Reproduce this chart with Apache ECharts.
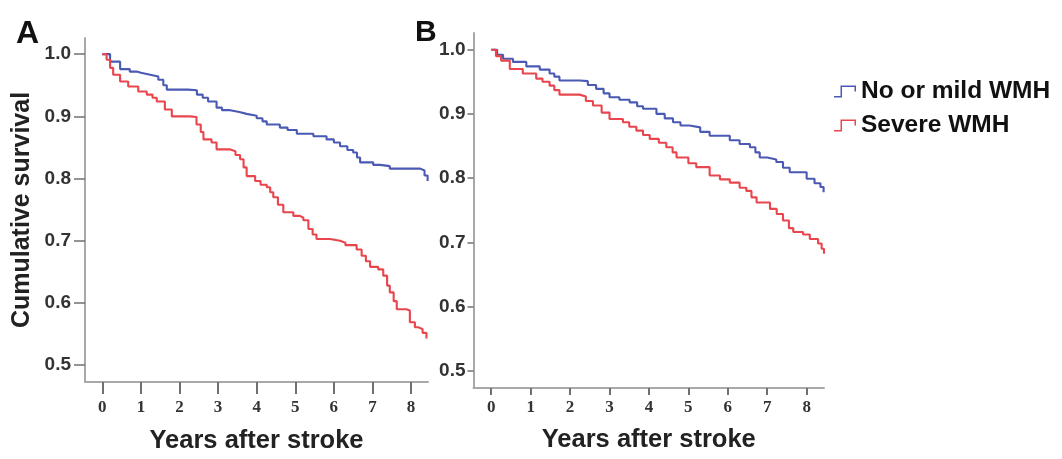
<!DOCTYPE html>
<html>
<head>
<meta charset="utf-8">
<script src="https://cdn.jsdelivr.net/npm/echarts@6/dist/echarts.min.js"></script>
<style>html,body{margin:0;padding:0;background:#fff;}#c{width:1062px;height:459px;}</style>
</head>
<body>
<div id="c"></div>
<script>
// ---- data ----
var seriesNames = ['No or mild WMH', 'Severe WMH'];
var xTicks = [0, 1, 2, 3, 4, 5, 6, 7, 8];
var yTicks = [0.5, 0.6, 0.7, 0.8, 0.9, 1.0];

// Panel A
var tA_mild = [0,0.2,0.46,0.71,0.89,1.0,1.24,1.45,1.58,1.67,2.22,2.45,2.6,2.74,2.96,3.1,3.31,3.55,3.74,4.0,4.15,4.26,4.6,4.8,5.04,5.47,5.81,6.0,6.16,6.35,6.5,6.6,6.68,7.02,7.2,7.45,8.24,8.35,8.43];
var sA_mild = [1.0,0.988,0.976,0.972,0.970,0.967,0.964,0.959,0.950,0.943,0.942,0.935,0.930,0.924,0.914,0.910,0.907,0.904,0.901,0.897,0.892,0.887,0.882,0.878,0.872,0.868,0.863,0.858,0.852,0.846,0.842,0.834,0.826,0.822,0.820,0.816,0.813,0.805,0.796];
var tA_severe = [0,0.11,0.2,0.28,0.46,0.67,0.93,1.15,1.3,1.41,1.62,1.8,2.27,2.44,2.55,2.62,2.83,2.96,3.3,3.45,3.57,3.66,3.74,3.96,4.1,4.26,4.35,4.43,4.55,4.69,4.95,5.12,5.21,5.34,5.45,5.55,5.9,6.16,6.3,6.59,6.72,6.83,6.94,7.15,7.28,7.38,7.45,7.55,7.63,7.88,7.97,8.1,8.19,8.3,8.4];
var sA_severe = [1.0,0.991,0.978,0.967,0.956,0.948,0.940,0.935,0.930,0.924,0.911,0.900,0.899,0.887,0.875,0.863,0.858,0.847,0.844,0.838,0.831,0.818,0.804,0.796,0.790,0.786,0.778,0.770,0.758,0.746,0.740,0.737,0.733,0.719,0.710,0.703,0.700,0.697,0.693,0.686,0.676,0.667,0.658,0.654,0.644,0.628,0.617,0.603,0.590,0.588,0.569,0.561,0.558,0.552,0.543];

// Panel B
var tB_mild = [0,0.15,0.3,0.55,0.89,1.23,1.48,1.6,1.73,2.24,2.45,2.66,2.85,3.0,3.25,3.51,3.7,3.85,4.19,4.4,4.61,4.8,5.03,5.3,5.54,6.05,6.3,6.56,6.7,6.81,7.0,7.23,7.4,7.57,8.0,8.2,8.35,8.43];
var sB_mild = [1.0,0.992,0.986,0.981,0.974,0.969,0.963,0.958,0.952,0.951,0.945,0.939,0.932,0.926,0.922,0.918,0.912,0.908,0.900,0.893,0.887,0.882,0.879,0.872,0.866,0.859,0.853,0.848,0.840,0.832,0.829,0.825,0.816,0.809,0.799,0.792,0.786,0.778];
var tB_severe = [0,0.12,0.25,0.47,0.8,1.14,1.3,1.48,1.6,1.73,2.24,2.4,2.58,2.8,3.0,3.34,3.5,3.68,3.85,4.02,4.25,4.44,4.6,4.7,5.0,5.2,5.54,5.8,6.05,6.3,6.47,6.6,6.73,7.07,7.24,7.4,7.55,7.66,7.91,8.08,8.29,8.38,8.44];
var sB_severe = [1.0,0.990,0.983,0.970,0.963,0.955,0.950,0.944,0.937,0.930,0.927,0.920,0.913,0.902,0.892,0.887,0.880,0.874,0.867,0.861,0.855,0.848,0.840,0.832,0.823,0.817,0.804,0.798,0.793,0.785,0.780,0.770,0.762,0.752,0.744,0.734,0.722,0.716,0.712,0.705,0.698,0.690,0.682];

function zip(t, s) { return t.map(function (v, i) { return [v, s[i]]; }); }

var BLUE = '#4a5ab4', RED = '#e8464c';
var AXIS = '#a8a8a8', TICK = '#707070', LABEL = '#333333';
var SANS = '"Liberation Sans", Arial, sans-serif';
var SERIF = '"Liberation Serif", "Times New Roman", serif';

function xAxisDef(gi, tickLen, labelMargin, nameGap) {
  return {
    type: 'value', gridIndex: gi, min: -0.45, max: 8.44,
    splitLine: { show: false },
    axisLine: { show: true, onZero: false, lineStyle: { color: AXIS, width: 2 } },
    axisTick: { show: true, length: tickLen, customValues: xTicks, lineStyle: { color: TICK, width: 2 } },
    axisLabel: { customValues: xTicks, margin: labelMargin, color: LABEL, fontFamily: SERIF, fontWeight: 'bold', fontSize: 17 },
    name: 'Years after stroke', nameLocation: 'middle', nameGap: nameGap,
    nameTextStyle: { color: '#222', fontFamily: SANS, fontWeight: 'bold', fontSize: 25.5 }
  };
}
function yAxisDef(gi, tickLen, labelMargin, withName) {
  var a = {
    type: 'value', gridIndex: gi, min: 0.473, max: 1.026,
    splitLine: { show: false },
    axisLine: { show: true, onZero: false, lineStyle: { color: AXIS, width: 2 } },
    axisTick: { show: true, length: tickLen, customValues: yTicks, lineStyle: { color: TICK, width: 1.5 } },
    axisLabel: { customValues: yTicks, margin: labelMargin, color: LABEL, fontFamily: SANS, fontWeight: 'bold', fontSize: 19,
      formatter: function (v) { return v.toFixed(1); } }
  };
  if (withName) {
    a.name = 'Cumulative survival'; a.nameLocation = 'middle'; a.nameGap = 50;
    a.nameTextStyle = { color: '#222', fontFamily: SANS, fontWeight: 'bold', fontSize: 25 };
  }
  return a;
}
function lineSeries(name, color, xi, data) {
  return {
    type: 'line', name: name, xAxisIndex: xi, yAxisIndex: xi, step: 'end',
    data: data, showSymbol: false, symbol: 'none', color: color,
    lineStyle: { color: color, width: 2.1 }, animation: false, silent: true
  };
}

var stepIcon = 'path://M0,10.5 L6.5,10.5 L6.5,0 L22,0 L22,6 L20.5,6 L20.5,1.5 L8,1.5 L8,12 L0,12 Z';

var chart = echarts.init(document.getElementById('c'), null, { renderer: 'canvas' });
chart.setOption({
  backgroundColor: '#ffffff',
  animation: false,
  title: [
    { text: 'A', left: 11, top: 13, textStyle: { fontFamily: SANS, fontWeight: 'bold', fontSize: 32, color: '#111' } },
    { text: 'B', left: 410, top: 13, textStyle: { fontFamily: SANS, fontWeight: 'bold', fontSize: 30, color: '#111' } }
  ],
  legend: {
    orient: 'vertical', left: 834, top: 79, padding: 0, itemGap: 9,
    itemWidth: 22, itemHeight: 12, selectedMode: false,
    itemStyle: { borderWidth: 0 },
    textStyle: { fontFamily: SANS, fontWeight: 'bold', fontSize: 24.5, color: '#111', lineHeight: 24 },
    data: [
      { name: seriesNames[0], icon: stepIcon, itemStyle: { color: BLUE } },
      { name: seriesNames[1], icon: stepIcon, itemStyle: { color: RED } }
    ]
  },
  grid: [
    { left: 85, right: 634, top: 38, bottom: 76 },
    { left: 473.5, right: 238, top: 33, bottom: 71 }
  ],
  xAxis: [xAxisDef(0, 12, 17, 46), xAxisDef(1, 7, 11, 39)],
  yAxis: [yAxisDef(0, 11, 14, true), yAxisDef(1, 6, 8, false)],
  series: [
    lineSeries(seriesNames[0], BLUE, 0, zip(tA_mild, sA_mild)),
    lineSeries(seriesNames[1], RED, 0, zip(tA_severe, sA_severe)),
    lineSeries(seriesNames[0], BLUE, 1, zip(tB_mild, sB_mild)),
    lineSeries(seriesNames[1], RED, 1, zip(tB_severe, sB_severe))
  ]
});
</script>
</body>
</html>
